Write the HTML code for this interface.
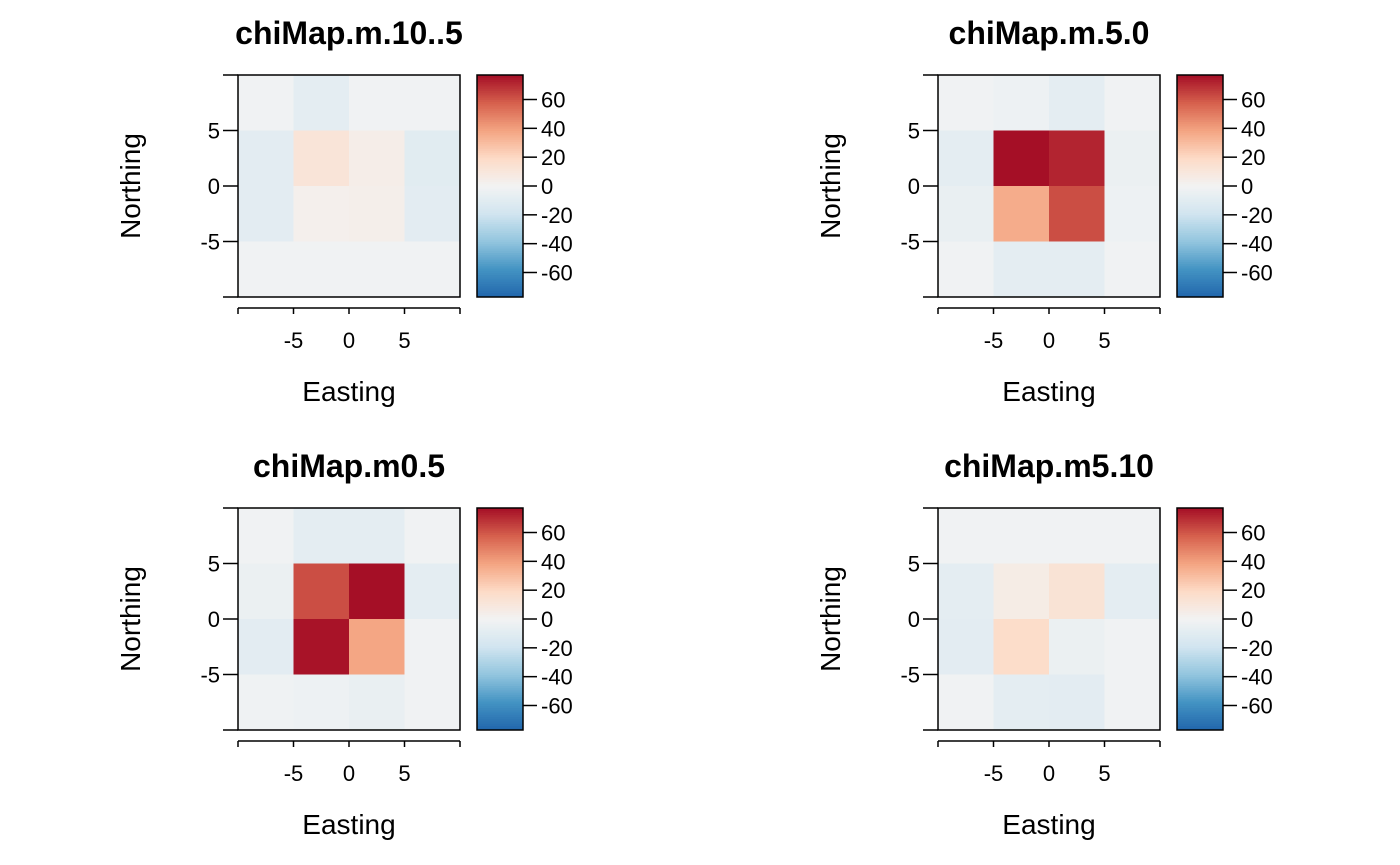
<!DOCTYPE html>
<html><head><meta charset="utf-8"><style>
html,body{margin:0;padding:0;background:#fff}
svg{display:block}
text{font-family:"Liberation Sans",Arial,sans-serif;fill:#000}
</style></head><body>
<svg id="chart" width="1400" height="865" viewBox="0 0 1400 865"></svg>
<script>
const titles = ["chiMap.m.10..5","chiMap.m.5.0","chiMap.m0.5","chiMap.m5.10"];
// values per panel, rows top (north) to bottom, cols west to east
const valuesP1 = [[-1,-8,-1,-1],[-9,12,5,-10],[-9,3,4,-9],[-1,-1,-1,-1]];
const valuesP2 = [[-1,-3,-8,-1],[-8,78,72,-4],[-5,36,62,-3],[-1,-8,-8,-1]];
const valuesP3 = [[-1,-8,-8,-1],[-4,62,78,-8],[-9,76,38,-1],[-2,-3,-5,-1]];
const valuesP4 = [[-1,-1,-1,-1],[-8,6,13,-8],[-9,18,-4,-1],[-1,-8,-9,-1]];
const panelValues = [valuesP1,valuesP2,valuesP3,valuesP4];
const axisTicks = [-5,0,5];
const cbTicks = [60,40,20,0,-20,-40,-60];
const cbRange = 77;

const NS="http://www.w3.org/2000/svg";
const svg=document.getElementById('chart');
function mk(tag,attrs,parent){const e=document.createElementNS(NS,tag);for(const k in attrs)e.setAttribute(k,attrs[k]);(parent||svg).appendChild(e);return e;}
const pal=["#2166ac","#4393c3","#92c5de","#d1e5f0","#f2f3f3","#fddbc7","#f4a582","#d6604d","#a50f26"];
function hex(h){return [1,3,5].map(i=>parseInt(h.substr(i,2),16));}
function color(v){let t=(Math.max(-cbRange,Math.min(cbRange,v))+cbRange)/(2*cbRange)*(pal.length-1);
 const i=Math.min(pal.length-2,Math.floor(t)),f=t-i;const a=hex(pal[i]),b=hex(pal[i+1]);
 return "rgb("+a.map((x,k)=>Math.round(x+(b[k]-x)*f)).join(",")+")";}

const offsets=[[0,0],[700,0],[0,433],[700,433]];
panelValues.forEach((vals,p)=>{
 const [ox,oy]=offsets[p];
 const g=mk('g',{});
 
 
 const L=238+ox,R=460+ox,T=75+oy,B=297+oy;
 const xs=v=>L+(v+10)/20*(R-L), ys=v=>B-(v+10)/20*(B-T);
 const t=mk('text',{x:(L+R)/2,y:44+oy,'text-anchor':'middle','font-size':'32px','font-weight':'bold'},g);t.textContent=titles[p];
 
 
 vals.forEach((row,r)=>row.forEach((v,c)=>{
  const x0=xs(-10+c*5),x1=xs(-5+c*5),y0=ys(10-r*5),y1=ys(5-r*5);
  const cell=mk('rect',{x:x0,y:y0,width:x1-x0+0.5,height:y1-y0+0.5,fill:color(v)},g);
  
  
 }));
 mk('rect',{x:L,y:T,width:R-L,height:B-T,fill:'none',stroke:'#000','stroke-width':1.5},g);
 const xa=mk('g',{},g);
 
 
 mk('line',{x1:L,x2:R,y1:B+11,y2:B+11,stroke:'#000','stroke-width':1.5},xa);
 [-10,-5,0,5,10].forEach(v=>mk('line',{x1:xs(v),x2:xs(v),y1:B+11,y2:B+17,stroke:'#000','stroke-width':1.5},xa));
 axisTicks.forEach(v=>{const e=mk('text',{x:xs(v),y:B+51,'text-anchor':'middle','font-size':'22px'},xa);e.textContent=v;});
 const xl=mk('text',{x:(L+R)/2,y:B+104,'text-anchor':'middle','font-size':'28px'},g);xl.textContent='Easting';
 
 
 const ya=mk('g',{},g);
 
 
 [-10,-5,0,5,10].forEach(v=>mk('line',{x1:L-15,x2:L,y1:ys(v),y2:ys(v),stroke:'#000','stroke-width':1.5},ya));
 axisTicks.forEach(v=>{const e=mk('text',{x:L-18,y:ys(v)+8,'text-anchor':'end','font-size':'22px'},ya);e.textContent=v;});
 const yl=mk('text',{x:0,y:0,'text-anchor':'middle','font-size':'28px',transform:`translate(${140+ox},${(T+B)/2}) rotate(-90)`},g);yl.textContent='Northing';
 
 
 const cb=mk('g',{},g);
 
 
 const CL=477+ox,CR=523+ox;const cy=v=>(T+B)/2-v/cbRange*(B-T)/2;
 const n=100;
 for(let i=0;i<n;i++){const v=-cbRange+(i+0.5)*2*cbRange/n;const y1=cy(-cbRange+i*2*cbRange/n),y0=cy(-cbRange+(i+1)*2*cbRange/n);
  mk('rect',{x:CL,y:y0,width:CR-CL,height:y1-y0+0.4,fill:color(v)},cb);}
 mk('rect',{x:CL,y:T,width:CR-CL,height:B-T,fill:'none',stroke:'#000','stroke-width':1.5},cb);
 cbTicks.forEach(v=>{mk('line',{x1:CR,x2:CR+14,y1:cy(v),y2:cy(v),stroke:'#000','stroke-width':1.5},cb);
  const e=mk('text',{x:CR+18,y:cy(v)+8,'font-size':'22px'},cb);e.textContent=v;});
});
</script>
</body></html>
